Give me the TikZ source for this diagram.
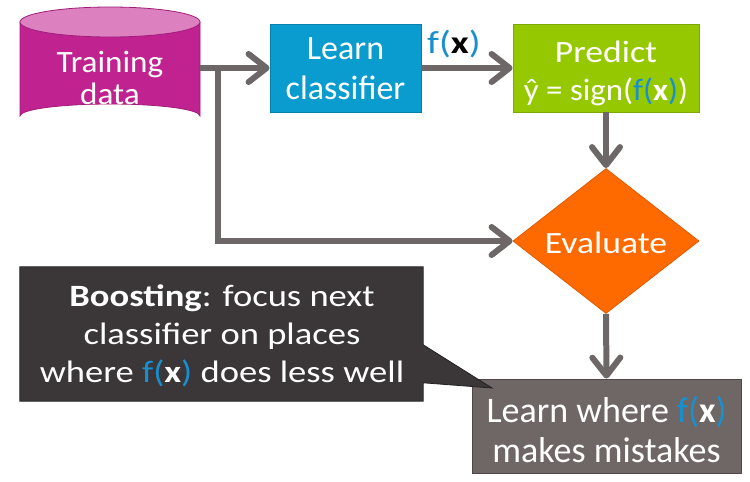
\documentclass[tikz,border=0pt]{standalone}
\usepackage{fontspec}
\usepackage{graphicx}
\setmainfont{Carlito}
\usetikzlibrary{arrows.meta,shapes.geometric,calc}
\definecolor{cylbody}{HTML}{C02390}
\definecolor{cyltop}{HTML}{DC80C0}
\definecolor{cylline}{HTML}{A01C78}
\definecolor{lcblue}{HTML}{0A9BCF}
\definecolor{lcline}{HTML}{0880AE}
\definecolor{prgreen}{HTML}{96C800}
\definecolor{prline}{HTML}{7DA800}
\definecolor{evorange}{HTML}{FF6A00}
\definecolor{evline}{HTML}{E05A00}
\definecolor{calldark}{HTML}{3B3637}
\definecolor{callline}{HTML}{222222}
\definecolor{lwgray}{HTML}{6F6765}
\definecolor{lwline}{HTML}{4F4847}
\definecolor{conngray}{HTML}{6D6767}
\definecolor{fxblue}{HTML}{1890D0}
\newcommand{\fxw}{{\color{fxblue}f(}\textbf{x}{\color{fxblue})}}
\newcommand{\fxk}{{\color{fxblue}f(}{\color{black}\textbf{x}}{\color{fxblue})}}
\newcommand{\widetext}[2]{\scalebox{#1}[1]{#2}}
\begin{document}
\begin{tikzpicture}[x=1pt,y=-1pt,
  txt/.style={text=white,align=center,inner sep=0pt},
  boxnode/.style={rectangle,inner sep=0pt,line width=0.8pt},
  conn/.style={draw=conngray,line width=6pt,
    -{Straight Barb[length=18pt,width=28pt,line width=6pt,round]}},
]
\useasboundingbox (0,0) rectangle (750,482);
% cylinder
\node[minimum width=180pt,minimum height=121pt,inner sep=0pt] (cyl) at (110,68) {};
\fill[cylbody,draw=cylline,line width=0.8pt] (20,22) -- (20,116) arc[start angle=180,end angle=360,x radius=90,y radius=12] -- (200,22) -- cycle;
\fill[cyltop,draw=cylline,line width=0.8pt] (110,22) ellipse[x radius=90,y radius=15];
\node[txt,font=\fontsize{31}{32}\selectfont] (cyltext) at (110,78) {\widetext{1.07}{Training}\\\widetext{1.07}{data}};
% boxes
\node[boxnode,fill=lcblue,draw=lcline,minimum width=151pt,minimum height=88pt] (lc) at (345.5,68) {};
\node[txt,font=\fontsize{34}{40}\selectfont] (lctext) at (345.5,69) {Learn\\classifier};
\node[boxnode,fill=prgreen,draw=prline,minimum width=186pt,minimum height=88pt] (pr) at (606,68) {};
\node[txt,font=\fontsize{31}{38}\selectfont] (prtext) at (606,73) {\widetext{1.15}{Predict}\\\widetext{1.06}{ŷ = sign(\fxw)}};
\node[diamond,inner sep=0pt,fill=evorange,draw=evline,line width=0.8pt,minimum width=186pt,minimum height=145pt] (ev) at (606,241) {};
\node[txt,font=\fontsize{31}{38}\selectfont] (evtext) at (606,243) {\widetext{1.15}{Evaluate}};
\node[boxnode,fill=lwgray,draw=lwline,minimum width=269pt,minimum height=94pt] (lw) at (606.5,426) {};
\node[txt,font=\fontsize{36}{40}\selectfont] (lwtext) at (606.5,429) {Learn where \fxw\\makes mistakes};
% connectors
\coordinate (br) at (218,68);
\draw[conn] (cyl.east) -- (lc.west);
\draw[conn] (br) |- (ev.west);
\draw[conn] (lc.east) -- (pr.west) node[midway,above=7pt,xshift=-13pt,font=\fontsize{32}{38}\selectfont,inner sep=0pt] (fx) {\widetext{1.22}{\fxk}};
\draw[conn] (pr.south) -- (ev.north);
\draw[conn] (ev.south) -- (lw.north);
% callout
\node[rectangle,inner sep=0pt,minimum width=403pt,minimum height=134pt] (boost) at (221.5,334) {};
\coordinate (tip) at (492,388);
\fill[calldark,draw=callline,line width=0.8pt] (boost.north west) -- (boost.north east) -- ($(boost.north east)+(0,78)$) -- (tip) -- ($(boost.north east)+(0,116)$) -- (boost.south east) -- (boost.south west) -- cycle;
\node[txt,font=\fontsize{31}{38}\selectfont] (boosttext) at (222,336) {\widetext{1.18}{\textbf{Boosting}: focus next}\\\widetext{1.18}{classifier on places}\\\widetext{1.18}{where \fxw{} does less well}};
\end{tikzpicture}
\end{document}
